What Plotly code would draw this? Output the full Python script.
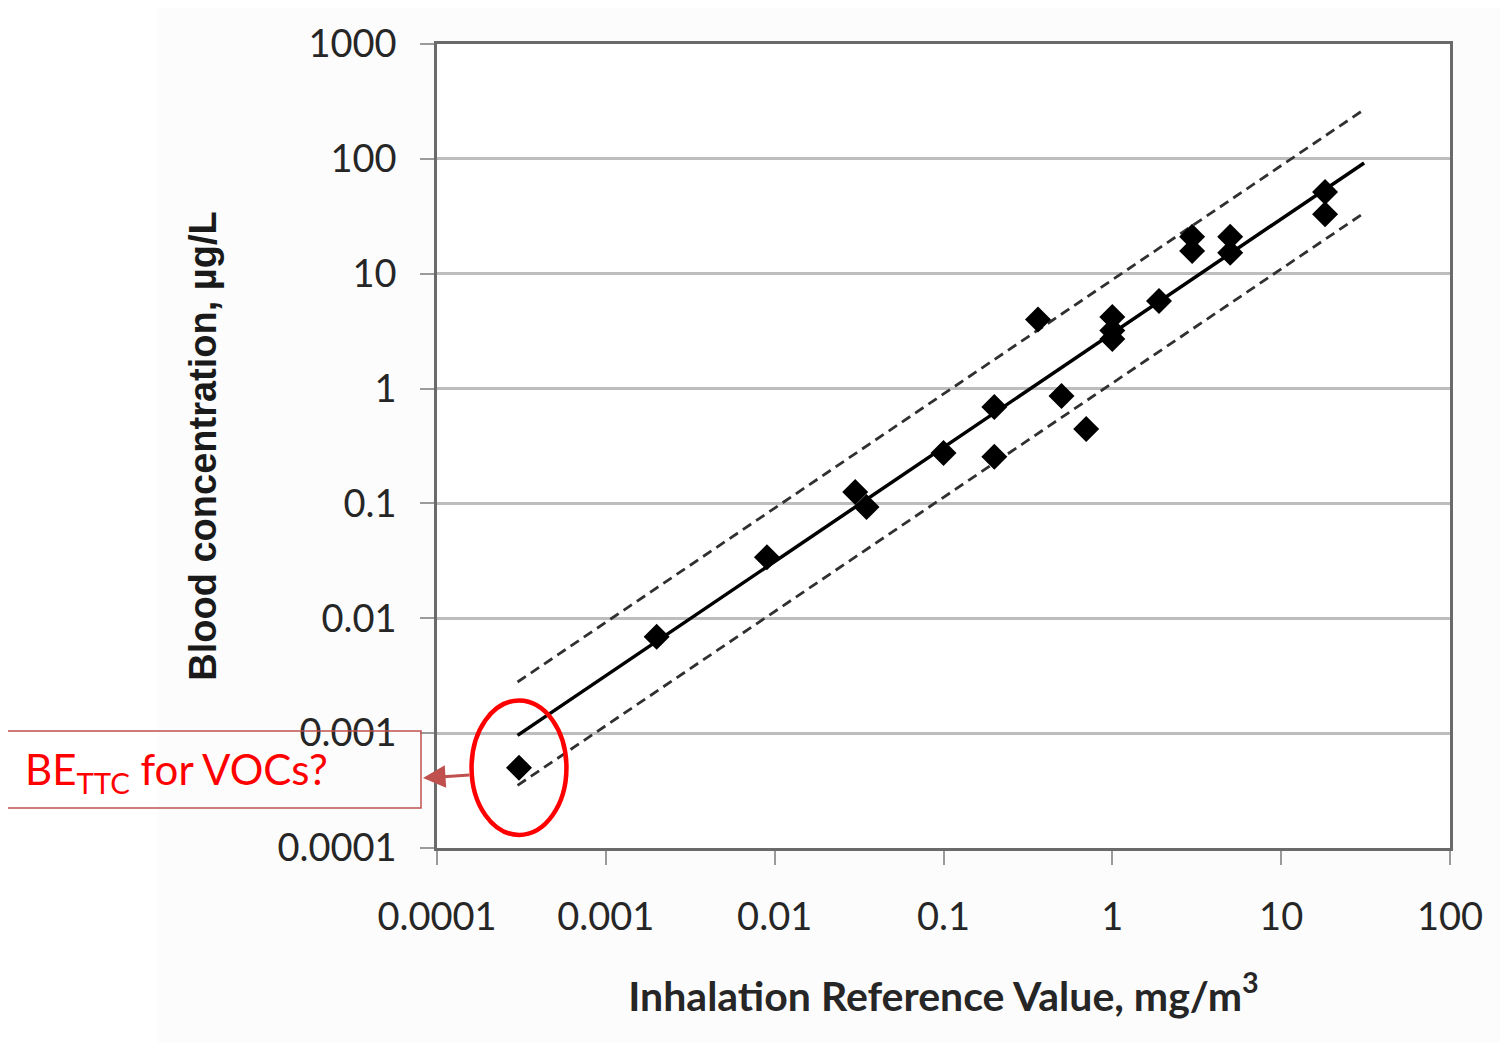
import numpy as np
import plotly.graph_objects as go

# ---- data ----
rfc_values = [0.000306, 0.0020, 0.0090, 0.030, 0.035, 0.10, 0.20, 0.20, 0.363, 0.50, 0.70,
              1.0, 1.0, 1.0, 1.89, 2.97, 2.97, 4.99, 4.99, 18.2, 18.2]
blood_conc = [0.00050, 0.0069, 0.034, 0.126, 0.093, 0.275, 0.69, 0.255, 4.0, 0.86, 0.445,
              4.2, 3.2, 2.7, 5.8, 21.0, 15.8, 21.0, 15.2, 51.5, 33.0]

# regression fit (log-log) and prediction band
fit_slope = 0.994
fit_intercept = 0.482
band_upper = 0.465
band_lower = -0.435
fit_x_range = [0.0003, 31.0]

x_tick_vals = [0.0001, 0.001, 0.01, 0.1, 1, 10, 100]
x_tick_text = ["0.0001", "0.001", "0.01", "0.1", "1", "10", "100"]
y_tick_vals = [0.0001, 0.001, 0.01, 0.1, 1, 10, 100, 1000]
y_tick_text = ["0.0001", "0.001", "0.01", "0.1", "1", "10", "100", "1000"]
x_log_range = [-4, 2]
y_log_range = [-4, 3]

highlight_index = 0

# page body adds an 8px offset; compensate
OFF = 8
W, H = 1508 - OFF, 1047 - OFF
ML, MT = 437 - OFF, 44 - OFF
PW, PH = 1013, 804
MR = W - ML - PW
MB = H - MT - PH


def px_to_paper(px, py):
    # px, py in reference-image pixels
    return (px - OFF - ML) / PW, (MT + PH - (py - OFF)) / PH


def log_to_paper(lx, ly):
    return ((lx - x_log_range[0]) / (x_log_range[1] - x_log_range[0]),
            (ly - y_log_range[0]) / (y_log_range[1] - y_log_range[0]))


lx = np.log10(np.array(fit_x_range))
fx = 10 ** lx
fy = 10 ** (fit_slope * lx + fit_intercept)
fy_up = 10 ** (fit_slope * lx + fit_intercept + band_upper)
fy_lo = 10 ** (fit_slope * lx + fit_intercept + band_lower)

fig = go.Figure()
fig.add_trace(go.Scatter(x=fx, y=fy_up, mode="lines",
                         line=dict(color="#303030", width=2.8, dash="10px,6px"),
                         showlegend=False, hoverinfo="skip"))
fig.add_trace(go.Scatter(x=fx, y=fy_lo, mode="lines",
                         line=dict(color="#303030", width=2.8, dash="10px,6px"),
                         showlegend=False, hoverinfo="skip"))
fig.add_trace(go.Scatter(x=fx, y=fy, mode="lines",
                         line=dict(color="black", width=3.5),
                         showlegend=False, hoverinfo="skip"))
fig.add_trace(go.Scatter(x=rfc_values, y=blood_conc, mode="markers",
                         marker=dict(symbol="diamond", size=20, color="black"),
                         showlegend=False))

tick_font = dict(family="Lato, Open Sans, sans-serif", size=38, color="#262626")

fig.update_xaxes(type="log", range=x_log_range, tickvals=x_tick_vals, ticktext=x_tick_text,
                 showgrid=False, zeroline=False, showline=True, mirror=True,
                 linecolor="#6a6a6a", linewidth=2.5,
                 ticks="outside", ticklen=14, tickwidth=2, tickcolor="#9a9a9a",
                 tickfont=tick_font, ticklabelstandoff=20,
                 title=dict(text="<b>Inhalation Reference Value, mg/m<sup>3</sup></b>",
                            font=dict(family="Lato, sans-serif", size=41, color="#262626"),
                            standoff=45))
fig.update_yaxes(type="log", range=y_log_range, tickvals=y_tick_vals, ticktext=y_tick_text,
                 showgrid=True, gridcolor="#bdbdbd", gridwidth=2.5, zeroline=False,
                 showline=True, mirror=True, linecolor="#6a6a6a", linewidth=2.5,
                 ticks="outside", ticklen=14, tickwidth=2, tickcolor="#9a9a9a",
                 tickfont=tick_font, ticklabelstandoff=16,
                 title=dict(text="<b>Blood concentration, µg/L</b>",
                            font=dict(family="Liberation Sans, Arial, sans-serif", size=38,
                                      color="#1a1a1a"),
                            standoff=50))

shapes = []
# faint background panel
bx0, by0 = px_to_paper(158, 1042)
bx1, by1 = px_to_paper(1508, 6)
shapes.append(dict(type="rect", xref="paper", yref="paper", x0=bx0, y0=by0, x1=bx1, y1=by1,
                   fillcolor="#fcfcfc", line=dict(width=0), layer="below"))
shapes.append(dict(type="rect", xref="paper", yref="paper", x0=0, y0=0, x1=1, y1=1,
                   fillcolor="white", line=dict(width=0), layer="below"))
# ellipse around highlighted point
cx = np.log10(rfc_values[highlight_index])
cy = np.log10(blood_conc[highlight_index])
ex0, ey0 = log_to_paper(cx - 0.281, cy - 0.585)
ex1, ey1 = log_to_paper(cx + 0.281, cy + 0.585)
shapes.append(dict(type="circle", xref="paper", yref="paper",
                   x0=ex0, x1=ex1, y0=ey0, y1=ey1,
                   line=dict(color="#ff0000", width=4.5)))
# callout box
rx0, ry0 = px_to_paper(7, 808)
rx1, ry1 = px_to_paper(421, 731)
shapes.append(dict(type="rect", xref="paper", yref="paper", x0=rx0, y0=ry0, x1=rx1, y1=ry1,
                   line=dict(color="#c0504d", width=1.5), fillcolor="rgba(0,0,0,0)"))

annotations = []
tx, ty = px_to_paper(23, 772)
annotations.append(dict(xref="paper", yref="paper", x=tx, y=ty, xanchor="left", yanchor="middle",
                        text="BE<sub>TTC</sub> for VOCs?", showarrow=False,
                        font=dict(family="Lato, sans-serif", size=42, color="#ff0000")))
hx, hy = px_to_paper(423, 778)
annotations.append(dict(xref="paper", yref="paper", x=hx, y=hy, text="", showarrow=True,
                        arrowhead=2, arrowsize=1.5, arrowwidth=3, arrowcolor="#c0504d",
                        ax=48, ay=-3))

fig.update_layout(width=W, height=H, margin=dict(l=ML, r=MR, t=MT, b=MB, autoexpand=False),
                  paper_bgcolor="white", plot_bgcolor="white",
                  shapes=shapes, annotations=annotations, showlegend=False)

fig.write_html("out.html")
